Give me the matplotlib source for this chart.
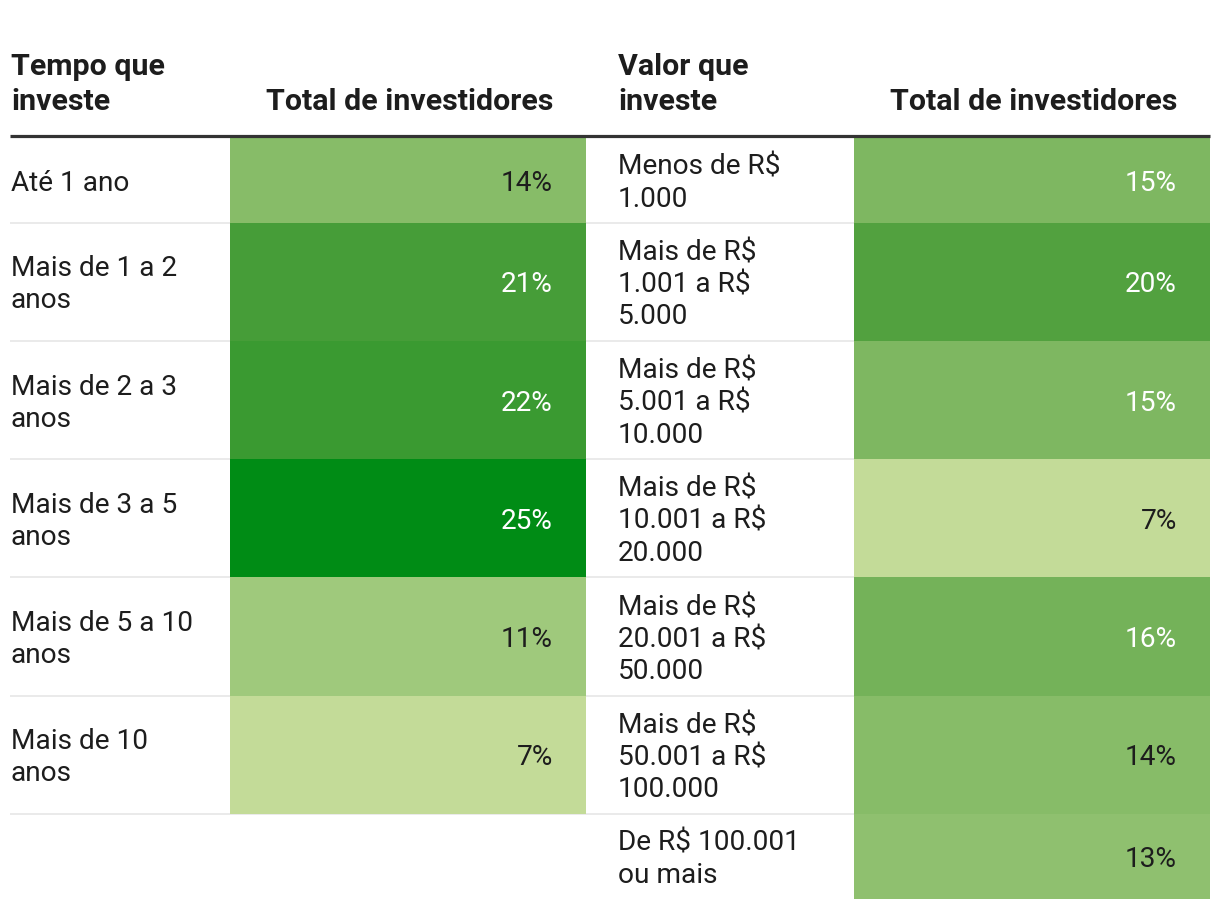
import matplotlib.pyplot as plt
from matplotlib.colors import LinearSegmentedColormap, Normalize

# ---- data -------------------------------------------------------------------
tempo_labels = ["Até 1 ano", "Mais de 1 a 2\nanos", "Mais de 2 a 3\nanos",
                "Mais de 3 a 5\nanos", "Mais de 5 a 10\nanos", "Mais de 10\nanos"]
tempo_pct = [14, 21, 22, 25, 11, 7]

valor_labels = ["Menos de R$\n1.000", "Mais de R$\n1.001 a R$\n5.000",
                "Mais de R$\n5.001 a R$\n10.000", "Mais de R$\n10.001 a R$\n20.000",
                "Mais de R$\n20.001 a R$\n50.000", "Mais de R$\n50.001 a R$\n100.000",
                "De R$ 100.001\nou mais"]
valor_pct = [15, 20, 15, 7, 16, 14, 13]

headers_left = ["Tempo que\ninveste", "Total de investidores"]
headers_right = ["Valor que\ninveste", "Total de investidores"]

# ---- style ------------------------------------------------------------------
plt.rcParams["font.family"] = ["Roboto", "DejaVu Sans"]
INK = "#1d1d1d"
GRID = "#e6e6e6"
FS = 20.2   # ~28px body
FSH = 21.9  # header
anchors = [(7, "#c3db98"), (11, "#9fc97c"), (14, "#87bc68"), (16, "#74b259"),
           (20, "#52a13f"), (22, "#3b9a31"), (25, "#008c15")]
lo, hi = anchors[0][0], anchors[-1][0]
cmap = LinearSegmentedColormap.from_list(
    "grn", [((v - lo) / (hi - lo), c) for v, c in anchors])
norm = Normalize(lo, hi)

W, H = 1220, 908
fig = plt.figure(figsize=(W / 100, H / 100), dpi=100)
ax = fig.add_axes([0, 0, 1, 1])
ax.set_xlim(0, W)
ax.set_ylim(H, 0)
ax.axis("off")

# layout
TOP = 138
LINE = 32
CAP = 10.5
tables = [
    dict(labels=tempo_labels, pct=tempo_pct, head=headers_left, x_lab=11, x_cell=230, x_end=586),
    dict(labels=valor_labels, pct=valor_pct, head=headers_right, x_lab=618, x_cell=854, x_end=1210),
]

# row heights: shared across the two tables, driven by label line count
n_rows = max(len(t["labels"]) for t in tables)
row_h = []
for i in range(n_rows):
    n = max(t["labels"][i].count("\n") + 1 for t in tables if i < len(t["labels"]))
    n = max(n, 2)
    row_h.append(18 + 33.4 * n)
row_top = [TOP + sum(row_h[:i]) for i in range(n_rows)]


def lines_at(x, yc, text, **kw):
    parts = text.split("\n")
    for k, p in enumerate(parts):
        yb = yc + CAP + LINE * (k - (len(parts) - 1) / 2)
        ax.text(x, yb, p, va="baseline", fontsize=FS, color=INK, **kw)


for t in tables:
    n = len(t["labels"])
    w = t["x_end"] - t["x_cell"]
    cols = [cmap(norm(v)) for v in t["pct"]]
    ax.bar([t["x_cell"]] * n, row_h[:n], bottom=row_top[:n], width=w,
           align="edge", color=cols, linewidth=0, zorder=2)
    for i, (lab, v) in enumerate(zip(t["labels"], t["pct"])):
        yc = row_top[i] + row_h[i] / 2
        lines_at(t["x_lab"], yc, lab, ha="left", zorder=3)
        ax.text(t["x_end"] - 33, yc + CAP, f"{v}%", ha="right", va="baseline",
                fontsize=FS, color="white" if v >= 15 else INK, zorder=3)
    # headers
    h1 = t["head"][0].split("\n")
    for k, p in enumerate(h1):
        ax.text(t["x_lab"], 75 + 35 * k, p, ha="left", va="baseline",
                fontsize=FSH, fontweight="bold", color=INK)
    ax.text(t["x_end"] - 33, 110, t["head"][1], ha="right", va="baseline",
            fontsize=FSH, fontweight="bold", color=INK)

# row separators
for i in range(1, n_rows):
    y = row_top[i]
    x1 = 1210 if i < len(tables[1]["labels"]) else 586
    ax.plot([10, x1], [y, y], color=GRID, lw=1.2, zorder=1, solid_capstyle="butt")

# header rule
ax.plot([10, 1210], [136, 136], color="#333333", lw=2.3, zorder=4, solid_capstyle="butt")

fig.savefig("out.png", dpi=100)
